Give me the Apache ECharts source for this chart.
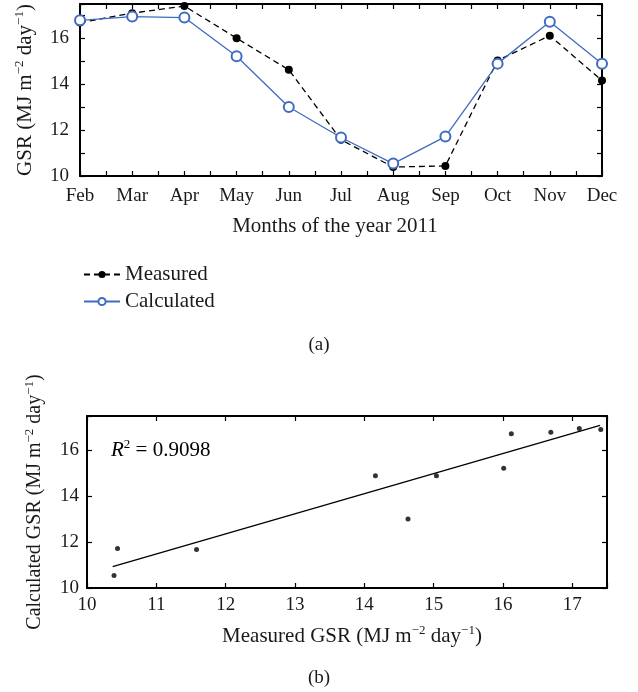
<!DOCTYPE html>
<html><head><meta charset="utf-8">
<script src="https://cdn.jsdelivr.net/npm/echarts@6/dist/echarts.min.js"></script>
<style>html,body{margin:0;padding:0;background:#fff}#c{width:638px;height:692px}</style>
</head><body><div id="c"></div>
<script>
const months = ['Feb','Mar','Apr','May','Jun','Jul','Aug','Sep','Oct','Nov','Dec'];
const measured = [16.69, 17.10, 17.41, 16.01, 14.63, 11.58, 10.39, 10.44, 15.04, 16.12, 14.16];
const calculated = [16.79, 16.95, 16.91, 15.22, 13.01, 11.68, 10.54, 11.72, 14.90, 16.73, 14.89];
const fitX = [10.37, 17.40];
const fitY = [10.93, 17.09];
const r2Text = '0.9098';

const FONT = 'Liberation Serif';
const TXT = '#1a1a1a';
const BLUE = '#3f6cc0';
const sup = {fontSize: 13, fontFamily: FONT, color: TXT, verticalAlign: 'top', lineHeight: 24};
const base = {fontSize: 21, fontFamily: FONT, color: TXT, lineHeight: 24};

function ax(o) {
  return Object.assign({
    axisLine: {show: true, onZero: false, lineStyle: {color: '#000', width: 2}},
    axisTick: {show: true, inside: true, length: 5, lineStyle: {color: '#000', width: 1.2}},
    splitLine: {show: false},
    axisLabel: {show: false},
  }, o);
}
const lab = (margin, fmt) => ({show: true, margin: margin, fontFamily: FONT, fontSize: 19, color: TXT, formatter: fmt});

const chart = echarts.init(document.getElementById('c'));
chart.setOption({
  animation: false,
  backgroundColor: '#fff',
  grid: [
    {left: 80, top: 4, width: 522, height: 172},
    {left: 87, top: 416, width: 520, height: 172}
  ],
  xAxis: [
    ax({type: 'value', gridIndex: 0, min: 0, max: 10, interval: 1, position: 'bottom',
        minorTick: {show: true, splitNumber: 2, length: 5, lineStyle: {color: '#000', width: 1.2}},
        axisLabel: lab(11, v => months[v] || ''),
        name: 'Months of the year 2011', nameLocation: 'middle', nameGap: 40,
        nameTextStyle: {fontFamily: FONT, fontSize: 21, color: TXT, padding: [0, 12, 0, 0]}}),
    ax({type: 'value', gridIndex: 0, min: 0, max: 10, interval: 1, position: 'top',
        minorTick: {show: true, splitNumber: 2, length: 5, lineStyle: {color: '#000', width: 1.2}}}),
    ax({type: 'value', gridIndex: 1, min: 10, max: 17.5, interval: 1, position: 'bottom',
        axisLabel: lab(8, v => Number.isInteger(v) ? String(v) : ''),
        name: '{b|Measured GSR (MJ m}{s|−2}{b| day}{s|−1}{b|)}', nameLocation: 'middle', nameGap: 36,
        nameTextStyle: {rich: {b: base, s: sup}, padding: [0, 0, 0, 10]}}),
    ax({type: 'value', gridIndex: 1, min: 10, max: 17.5, interval: 1, position: 'top'})
  ],
  yAxis: [
    ax({type: 'value', gridIndex: 0, min: 10, max: 17.5, interval: 1, position: 'left',
        axisLabel: lab(11, v => (Number.isInteger(v) && v % 2 === 0) ? String(v) : ''),
        name: '{b|GSR (MJ m}{s|−2}{b| day}{s|−1}{b|)}', nameLocation: 'middle', nameGap: 43,
        nameTextStyle: {rich: {b: base, s: sup}}}),
    ax({type: 'value', gridIndex: 0, min: 10, max: 17.5, interval: 1, position: 'right'}),
    ax({type: 'value', gridIndex: 1, min: 10, max: 17.5, interval: 2, position: 'left',
        axisLabel: lab(8, v => Number.isInteger(v) ? String(v) : ''),
        name: '{b|Calculated GSR (MJ m}{s|−2}{b| day}{s|−1}{b|)}', nameLocation: 'middle', nameGap: 40,
        nameTextStyle: {rich: {b: Object.assign({}, base, {fontSize: 20}), s: sup}}}),
    ax({type: 'value', gridIndex: 1, min: 10, max: 17.5, interval: 2, position: 'right'})
  ],
  legend: {
    data: ['Measured', 'Calculated'], orient: 'vertical', left: 78, top: 259,
    itemWidth: 36, itemHeight: 9, itemGap: 6,
    textStyle: {fontFamily: FONT, fontSize: 21, color: TXT}
  },
  title: [
    {text: '(a)', left: 'center', top: 331, textStyle: {fontFamily: FONT, fontSize: 19, fontWeight: 'normal', color: TXT}},
    {text: '(b)', left: 'center', top: 664, textStyle: {fontFamily: FONT, fontSize: 19, fontWeight: 'normal', color: TXT}}
  ],
  graphic: [
    {type: 'text', left: 111, top: 438, style: {
      text: '{i|R}{s|2}{b| = ' + r2Text + '}',
      rich: {i: Object.assign({}, base, {fontStyle: 'italic'}), s: sup, b: base}
    }}
  ],
  series: [
    {name: 'Measured', type: 'line', xAxisIndex: 0, yAxisIndex: 0,
     data: months.map((m, i) => [i, measured[i]]),
     symbol: 'circle', symbolSize: 8,
     lineStyle: {color: '#000', width: 1.3, type: [6, 4]},
     itemStyle: {color: '#000'}, z: 2},
    {name: 'Calculated', type: 'line', xAxisIndex: 0, yAxisIndex: 0,
     data: months.map((m, i) => [i, calculated[i]]),
     symbol: 'emptyCircle', symbolSize: 10,
     lineStyle: {color: BLUE, width: 1.3},
     itemStyle: {color: BLUE, borderColor: BLUE, borderWidth: 1.3}, z: 3},
    {name: 'scatter', type: 'scatter', xAxisIndex: 2, yAxisIndex: 2,
     data: measured.map((m, i) => [m, calculated[i]]),
     symbol: 'circle', symbolSize: 5, itemStyle: {color: '#000'}},
    {name: 'fit', type: 'line', xAxisIndex: 2, yAxisIndex: 2,
     data: fitX.map((x, i) => [x, fitY[i]]),
     symbol: 'none', lineStyle: {color: '#000', width: 1.3}}
  ]
});
</script></body></html>
